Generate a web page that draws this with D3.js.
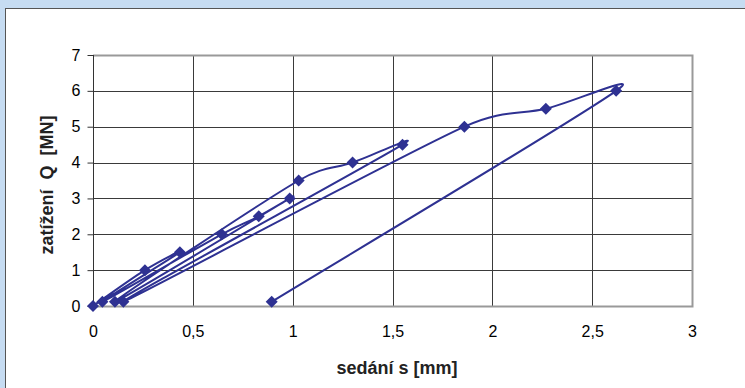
<!DOCTYPE html>
<html>
<head>
<meta charset="utf-8">
<script src="https://cdn.jsdelivr.net/npm/d3@7"></script>
<style>
    body { margin: 0; background: #c6dcf2; }
    svg { display: block; }
    .tick-label { font-family: "Liberation Sans", Arial, sans-serif; font-size: 16px; fill: #000; }
    .axis-title { font-family: "Liberation Sans", Arial, sans-serif; font-size: 18px; font-weight: bold; fill: #222; white-space: pre; }
</style>
</head>
<body>
<div id="chart"></div>
<script>
const settlement = [0, 0.26, 0.435, 0.047, 0.645, 0.83, 0.985, 0.11, 1.03, 1.3, 1.55, 0.152, 1.86, 2.268, 2.62, 0.895];
const load = [0, 1, 1.5, 0.12, 2, 2.5, 3, 0.12, 3.5, 4, 4.5, 0.12, 5, 5.5, 6, 0.12];
const xTicks = [0, 0.5, 1, 1.5, 2, 2.5, 3];
const yTicks = [0, 1, 2, 3, 4, 5, 6, 7];
const xTitle = "sedání s [mm]";
const yTitle = "zatížení  Q  [MN]";

/**
 * Spreadsheet-like smoothing: Bezier segments whose tangents follow the
 * neighbouring points, capped at half of the segment length
 */
function curveSmooth(context) {
    let pts = [];
    return {
        areaStart: function() {},
        areaEnd: function() {},
        lineStart: function() { pts = []; },
        point: function(x, y) { pts.push([+x, +y]); },
        lineEnd: function() {
            const n = pts.length;
            if (!n) return;
            const dist = (a, b) => Math.hypot(b[0] - a[0], b[1] - a[1]);
            context.moveTo(pts[0][0], pts[0][1]);
            for (let i = 0; i < n - 1; ++i) {
                const p0 = pts[Math.max(i - 1, 0)], p1 = pts[i], p2 = pts[i + 1], p3 = pts[Math.min(i + 2, n - 1)];
                const d12 = dist(p1, p2), d02 = dist(p0, p2), d13 = dist(p1, p3);
                const f1 = d02 > 0 ? Math.min(1 / 6, 0.5 * d12 / d02) : 0;
                const f2 = d13 > 0 ? Math.min(1 / 6, 0.5 * d12 / d13) : 0;
                context.bezierCurveTo(
                    p1[0] + (p2[0] - p0[0]) * f1, p1[1] + (p2[1] - p0[1]) * f1,
                    p2[0] - (p3[0] - p1[0]) * f2, p2[1] - (p3[1] - p1[1]) * f2,
                    p2[0], p2[1]);
            }
        }
    };
}

/**
 * Constructor for the load-settlement chart
 */
function LoadChart(){
    let self = this;
    self.init();
};

/**
 * Creates the svg, frame, grid and axes
 */
LoadChart.prototype.init = function(){
    let self = this;
    self.width = 745;
    self.height = 388;
    self.plot = {left: 93, right: 692, top: 55, bottom: 306};

    self.svg = d3.select("#chart").append("svg")
        .attr("width", self.width)
        .attr("height", self.height);

    //Light blue outer frame and white panel
    self.svg.append("rect")
        .attr("x", 0).attr("y", 0)
        .attr("width", self.width).attr("height", self.height)
        .attr("fill", "#c6dcf2");

    self.svg.append("rect")
        .attr("x", 5.5).attr("y", 8.5)
        .attr("width", self.width + 10).attr("height", self.height + 10)
        .attr("fill", "#fff")
        .attr("stroke", "#555")
        .attr("stroke-width", 1);

    self.x = d3.scaleLinear().domain([0, 3]).range([self.plot.left, self.plot.right]);
    self.y = d3.scaleLinear().domain([0, 7]).range([self.plot.bottom, self.plot.top]);

    //Grid lines
    self.svg.append("g").selectAll("line")
        .data(yTicks.filter(d => d > 0 && d < 7))
        .enter().append("line")
        .attr("x1", self.plot.left).attr("x2", self.plot.right)
        .attr("y1", d => Math.round(self.y(d)) + 0.5)
        .attr("y2", d => Math.round(self.y(d)) + 0.5)
        .attr("stroke", "#3a3a3a");

    self.svg.append("g").selectAll("line")
        .data(xTicks.filter(d => d > 0 && d < 3))
        .enter().append("line")
        .attr("y1", self.plot.top).attr("y2", self.plot.bottom)
        .attr("x1", d => Math.round(self.x(d)) + 0.5)
        .attr("x2", d => Math.round(self.x(d)) + 0.5)
        .attr("stroke", "#3a3a3a");

    //Plot area border (top, right, bottom in gray)
    self.svg.append("path")
        .attr("d", "M" + self.plot.left + "," + (self.plot.top + 0.5) +
            "H" + (self.plot.right + 0.5) + "V" + (self.plot.bottom + 0.5) + "H" + self.plot.left)
        .attr("fill", "none")
        .attr("stroke", "#999")
        .attr("stroke-width", 2);

    //Y axis with ticks on the left
    const yAxis = d3.axisLeft(self.y).tickValues(yTicks).tickSize(6).tickPadding(7)
        .tickFormat(d3.format("d"));
    const gy = self.svg.append("g")
        .attr("transform", "translate(" + (self.plot.left + 0.5) + ",0)")
        .call(yAxis);
    gy.select(".domain").attr("stroke", "#333").attr("d", "M0," + self.plot.top + "V" + (self.plot.bottom + 1));
    gy.selectAll(".tick line").attr("stroke", "#333");
    gy.selectAll(".tick text").attr("class", "tick-label").attr("fill", null).attr("font-size", null).attr("font-family", null);

    //X axis labels only
    const xAxis = d3.axisBottom(self.x).tickValues(xTicks).tickSize(0).tickPadding(20)
        .tickFormat(d => String(d).replace(".", ","));
    const gx = self.svg.append("g")
        .attr("transform", "translate(0," + self.plot.bottom + ")")
        .call(xAxis);
    gx.select(".domain").remove();
    gx.selectAll(".tick text").attr("class", "tick-label").attr("fill", null).attr("font-size", null).attr("font-family", null);

    //Axis titles
    self.svg.append("text")
        .attr("class", "axis-title")
        .attr("x", 397).attr("y", 374)
        .attr("text-anchor", "middle")
        .text(xTitle);

    self.svg.append("text")
        .attr("class", "axis-title")
        .attr("transform", "translate(53,185) rotate(-90)")
        .attr("text-anchor", "middle")
        .text(yTitle);
};

/**
 * Draws the smoothed load path and the diamond markers
 */
LoadChart.prototype.update = function(){
    let self = this;
    const points = settlement.map((s, i) => [s, load[i]]);

    const line = d3.line()
        .x(d => self.x(d[0]))
        .y(d => self.y(d[1]))
        .curve(curveSmooth);

    self.svg.append("path")
        .datum(points)
        .attr("d", line)
        .attr("fill", "none")
        .attr("stroke", "#2e3192")
        .attr("stroke-width", 2);

    self.svg.append("g").selectAll("path")
        .data(points)
        .enter().append("path")
        .attr("d", d3.symbol().type(d3.symbolSquare).size(72))
        .attr("transform", d => "translate(" + self.x(d[0]) + "," + self.y(d[1]) + ") rotate(45)")
        .attr("fill", "#2e3192");
};

let chart = new LoadChart();
chart.update();
</script>
</body>
</html>
